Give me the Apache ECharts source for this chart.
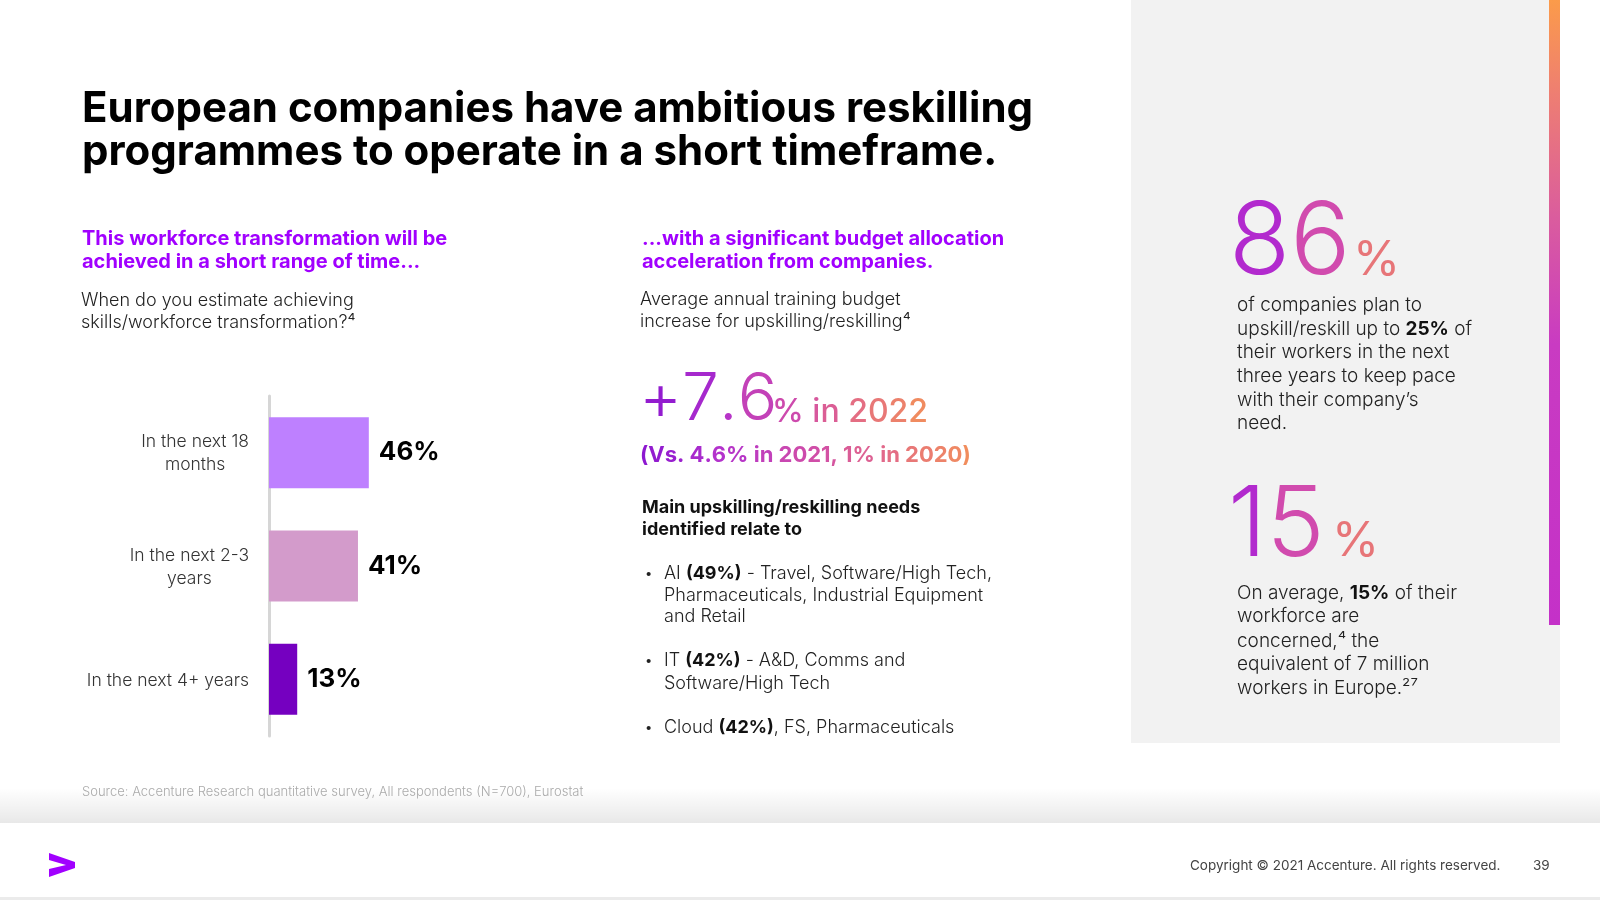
<!DOCTYPE html>
<html>
<head>
<meta charset="utf-8">
<script src="https://cdn.jsdelivr.net/npm/echarts@6/dist/echarts.min.js"></script>
<style>
  html, body { margin: 0; padding: 0; background: #fff; }
  #main { width: 1600px; height: 900px; }
</style>
</head>
<body>
<div id="main"></div>
<script>
// bar chart data
var categories = ['In the next 18\nmonths', 'In the next 2-3\nyears', 'In the next 4+ years'];
var shares = [46, 41, 13];
var barColors = ['#BE80FF', '#D39BCB', '#7500C0'];

// headline figures
var budgetNow = ['+7.6', '% in 2022'];
var budgetBefore = '(Vs. 4.6% in 2021, 1% in 2020)';
var bigStats = ['86', '15'];

var FONT = 'Inter, "Noto Sans", sans-serif';
var PURPLE = '#A100FF';
var WARM = ['#8A16D0', '#B332CC', '#CF4CAA', '#E2688A', '#F2905A'];
var STAT = ['#9A18D6', '#C63AC8', '#D8559E', '#F28C5C'];
var DY = 2;

function txt(x, y, text, size, weight, color, rich, lh) {
  var st = {
    x: x, y: y + DY, text: text, fontFamily: FONT, fontSize: size,
    fontWeight: weight, fill: color, verticalAlign: 'middle'
  };
  if (rich) st.rich = rich;
  if (lh) st.lineHeight = lh;
  return { type: 'text', silent: true, z: 10, style: st };
}
function bold(size, color) {
  return { b: { fontFamily: FONT, fontSize: size, fontWeight: 'bold', fill: color } };
}
// colour ramp along a text, one token per character
function hex(c) {
  return [parseInt(c.substr(1, 2), 16), parseInt(c.substr(3, 2), 16), parseInt(c.substr(5, 2), 16)];
}
function mix(stops, f) {
  var n = stops.length - 1;
  var p = Math.min(n - 1e-6, Math.max(0, f * n)), i = Math.floor(p), t = p - i;
  var a = hex(stops[i]), b = hex(stops[i + 1]);
  return 'rgb(' + a.map(function (v, k) { return Math.round(v + (b[k] - v) * t); }).join(',') + ')';
}
function rampTxt(x, y, str, size, weight, stops, f0, f1, lh) {
  var rich = {}, parts = [], chars = str.split('');
  chars.forEach(function (ch, i) {
    var key = 'g' + i;
    rich[key] = {
      fontFamily: FONT, fontSize: size, fontWeight: weight, lineHeight: lh || size * 1.2,
      fill: mix(stops, f0 + (f1 - f0) * (i + 0.5) / chars.length)
    };
    parts.push('{' + key + '|' + ch + '}');
  });
  return txt(x, y, parts.join(''), size, weight, stops[0], rich);
}

var graphics = [
  // right panel
  { type: 'rect', z: 0, silent: true, shape: { x: 1131, y: 0, width: 429, height: 743 }, style: { fill: '#F2F2F2' } },
  { type: 'rect', z: 1, silent: true, shape: { x: 1549, y: 0, width: 11, height: 625 },
    style: { fill: new echarts.graphic.LinearGradient(0, 0, 0, 1, [
      { offset: 0, color: '#FB9B4A' }, { offset: 0.15, color: '#EE7E72' },
      { offset: 0.35, color: '#DA5C9E' }, { offset: 0.55, color: '#C93BC2' },
      { offset: 1, color: '#C431C8' }]) } },
  // footer shadow + band
  { type: 'rect', z: 0, silent: true, shape: { x: 0, y: 788, width: 1600, height: 35 },
    style: { fill: new echarts.graphic.LinearGradient(0, 0, 0, 1, [
      { offset: 0, color: 'rgba(0,0,0,0)' }, { offset: 1, color: 'rgba(0,0,0,0.09)' }]) } },
  { type: 'rect', z: 1, silent: true, shape: { x: 0, y: 823, width: 1600, height: 74 }, style: { fill: '#FFFFFF' } },
  { type: 'rect', z: 1, silent: true, shape: { x: 0, y: 897, width: 1600, height: 3 }, style: { fill: '#EBEBEB' } },
  // logo
  { type: 'polygon', z: 10, silent: true,
    shape: { points: [[49, 853], [75, 862], [75, 868], [49, 877], [49, 869], [66, 865], [49, 860]] },
    style: { fill: PURPLE } },

  // title
  txt(82, 107, 'European companies have ambitious reskilling', 42, 'bold', '#000', null, 42),
  txt(82, 150, 'programmes to operate in a short timeframe.', 42, 'bold', '#000', null, 42),

  // left column
  txt(82, 237, 'This workforce transformation will be', 20, 'bold', PURPLE),
  txt(82, 260, 'achieved in a short range of time...', 20, 'bold', PURPLE),
  txt(81, 299, 'When do you estimate achieving', 18, 300, '#222'),
  txt(81, 321, 'skills/workforce transformation?\u2074', 18, 300, '#222'),

  // middle column
  txt(642, 237, '...with a significant budget allocation', 20, 'bold', PURPLE),
  txt(642, 260, 'acceleration from companies.', 20, 'bold', PURPLE),
  txt(640, 298, 'Average annual training budget', 18, 300, '#222'),
  txt(640, 320, 'increase for upskilling/reskilling\u2074', 18, 300, '#222'),
  rampTxt(639, 398, budgetNow[0], 66, 300, WARM, 0, 0.45, 58),
  rampTxt(772, 410, budgetNow[1], 32, 500, WARM, 0.45, 1, 36),
  rampTxt(640, 453, budgetBefore, 22, 'bold', WARM, 0, 1, 26),
  txt(642, 506, 'Main upskilling/reskilling needs', 18, 'bold', '#111'),
  txt(642, 528, 'identified relate to', 18, 'bold', '#111'),

  txt(645, 572, '\u2022', 13, 400, '#222'),
  txt(664, 572, 'AI {b|(49%)} - Travel, Software/High Tech,', 18, 300, '#222', bold(18, '#111')),
  txt(664, 594, 'Pharmaceuticals, Industrial Equipment', 18, 300, '#222'),
  txt(664, 615, 'and Retail', 18, 300, '#222'),
  txt(645, 659, '\u2022', 13, 400, '#222'),
  txt(664, 659, 'IT {b|(42%)} - A&D, Comms and', 18, 300, '#222', bold(18, '#111')),
  txt(664, 682, 'Software/High Tech', 18, 300, '#222'),
  txt(645, 726, '\u2022', 13, 400, '#222'),
  txt(664, 726, 'Cloud {b|(42%)}, FS, Pharmaceuticals', 18, 300, '#222', bold(18, '#111')),

  // right panel stats
  rampTxt(1229, 242, bigStats[0], 100, 300, STAT, 0, 0.72, 78),
  rampTxt(1353, 259, '%', 48, 400, STAT, 0.72, 1, 44),
  txt(1237, 303, 'of companies plan to', 19, 300, '#222'),
  txt(1237, 327, 'upskill/reskill up to {b|25%} of', 19, 300, '#222', bold(19, '#111')),
  txt(1237, 350, 'their workers in the next', 19, 300, '#222'),
  txt(1237, 374, 'three years to keep pace', 19, 300, '#222'),
  txt(1237, 398, 'with their company\u2019s', 19, 300, '#222'),
  txt(1237, 421, 'need.', 19, 300, '#222'),

  rampTxt(1228, 525, bigStats[1], 98, 300, STAT, 0, 0.72, 78),
  rampTxt(1332, 540, '%', 48, 400, STAT, 0.72, 1, 44),
  txt(1237, 591, 'On average, {b|15%} of their', 19, 300, '#222', bold(19, '#111')),
  txt(1237, 614, 'workforce are', 19, 300, '#222'),
  txt(1237, 639, 'concerned,\u2074 the', 19, 300, '#222'),
  txt(1237, 662, 'equivalent of 7 million', 19, 300, '#222'),
  txt(1237, 686, 'workers in Europe.\u00B2\u2077', 19, 300, '#222'),

  // source and footer
  txt(82, 790, 'Source: Accenture Research quantitative survey, All respondents (N=700), Eurostat', 13, 300, '#ABABAB'),
  txt(1190, 864, 'Copyright \u00A9 2021 Accenture. All rights reserved.', 13.5, 400, '#444'),
  txt(1533, 864, '39', 13.5, 400, '#444')
];

var chart = echarts.init(document.getElementById('main'));
chart.setOption({
  animation: false,
  backgroundColor: '#FFFFFF',
  grid: { left: 269, top: 396, width: 217, bottom: 164, containLabel: false },
  xAxis: { type: 'value', min: 0, max: 100, show: false },
  yAxis: {
    type: 'category',
    data: categories,
    inverse: true,
    axisLine: { show: true, lineStyle: { color: '#D6D6D6', width: 3 } },
    axisTick: { show: false },
    splitLine: { show: false },
    axisLabel: {
      margin: 20,
      formatter: function (v) {
        return v.split('\n').map(function (s) { return '{c|' + s + '}'; }).join('\n');
      },
      rich: { c: { align: 'center', fontFamily: FONT, fontSize: 17.5, fontWeight: 300, color: '#333', lineHeight: 23, padding: [2, 0, 0, 0] } }
    }
  },
  series: [{
    type: 'bar',
    barWidth: 71,
    data: shares.map(function (v, i) { return { value: v, itemStyle: { color: barColors[i] } }; }),
    label: {
      show: true, position: 'right', distance: 10, formatter: '{c}%',
      fontFamily: FONT, fontSize: 26, fontWeight: 'bold', color: '#000', padding: [4, 0, 0, 0]
    }
  }],
  graphic: { elements: graphics }
});
</script>
</body>
</html>
